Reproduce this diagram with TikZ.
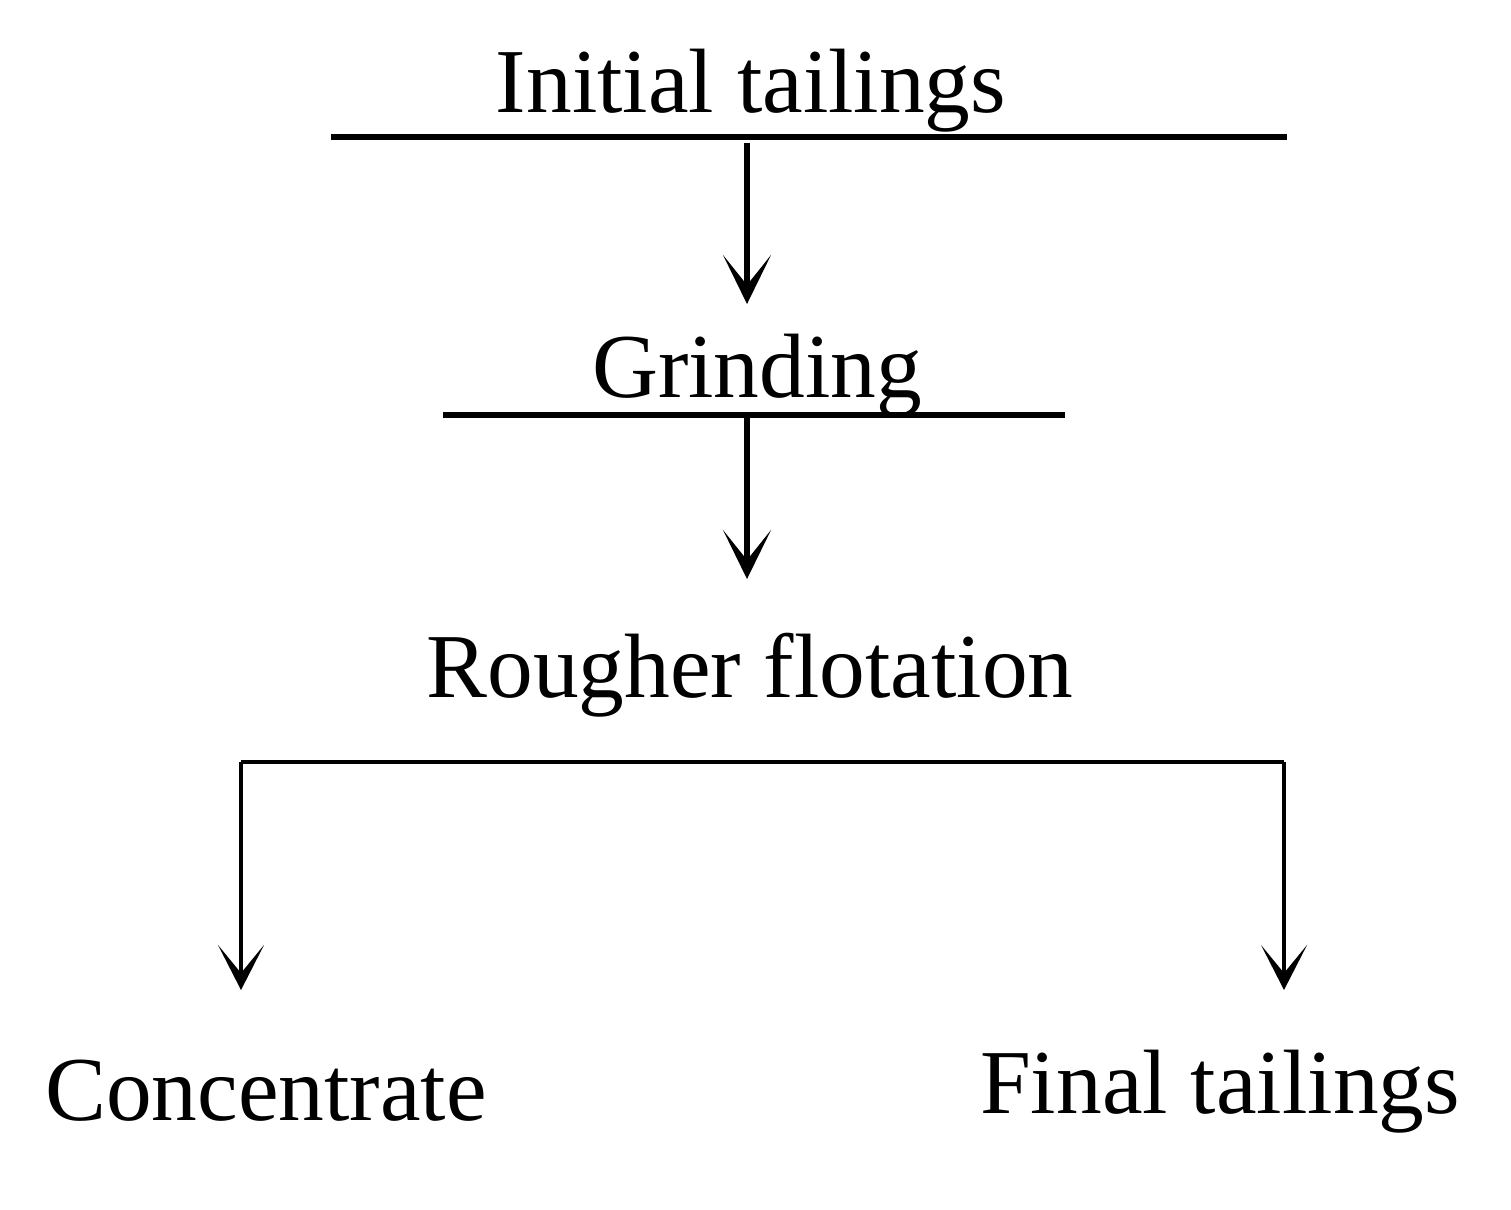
\documentclass[tikz,border=0pt]{standalone}
\usepackage{fontspec}
\setmainfont{Liberation Serif}
\usetikzlibrary{arrows.meta}
\begin{document}
\begin{tikzpicture}[
    every node/.style={font=\fontsize{26}{30}\selectfont, inner sep=0pt, anchor=base},
    bar/.style={line width=1.7pt},
    flow/.style={line width=1.7pt, -{Stealth[length=0.49cm,width=0.48cm,inset=0.3cm]}},
    branch/.style={line width=0.9pt, -{Stealth[length=0.45cm,width=0.46cm,inset=0.28cm]}}
]
    \useasboundingbox (0,0) rectangle (15.11,-12.09);

    \node (init) at (7.51,-1.12) {Initial tailings};
    \draw[bar] (3.31,-1.37) -- (12.87,-1.37);
    \coordinate (s1) at (7.47,-1.43);
    \coordinate (e1) at (7.47,-3.04);
    \draw[flow] (s1) -- (e1);

    \node (grind) at (7.57,-3.97) {Grinding};
    \draw[bar] (4.43,-4.15) -- (10.65,-4.15);
    \coordinate (s2) at (7.47,-4.18);
    \coordinate (e2) at (7.47,-5.79);
    \draw[flow] (s2) -- (e2);

    \node (rough) at (7.5,-6.97) {Rougher flotation};

    \coordinate (bl) at (2.41,-7.62);
    \coordinate (br) at (12.84,-7.62);
    \coordinate (el) at (2.41,-9.9);
    \coordinate (er) at (12.84,-9.9);
    \draw[line width=0.9pt] (bl) -- (br);
    \draw[branch] (bl) -- (el);
    \draw[branch] (br) -- (er);

    \node (conc) at (2.66,-11.2) {Concentrate};
    \node (final) at (12.2,-11.13) {Final tailings};
\end{tikzpicture}
\end{document}
